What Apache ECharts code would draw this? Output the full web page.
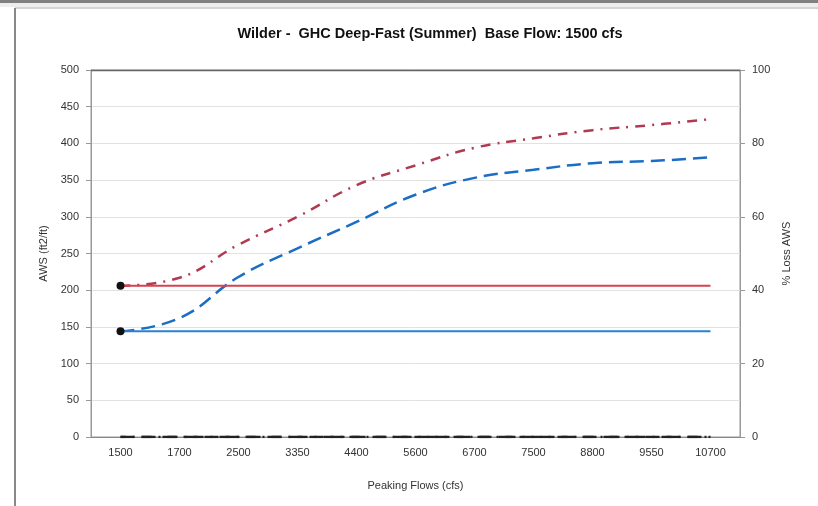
<!DOCTYPE html>
<html><head><meta charset="utf-8">
<script src="https://cdn.jsdelivr.net/npm/echarts@6/dist/echarts.min.js"></script>
<style>html,body{margin:0;padding:0;background:#fff}#c{width:818px;height:506px}</style>
</head><body><div id="c"></div>
<script>
const categories = ['1500','1700','2500','3350','4400','5600','6700','7500','8800','9550','10700'];
const baseRed = [206,206,206,206,206,206,206,206,206,206,206];
const baseBlue = [144,144,144,144,144,144,144,144,144,144,144];
const peakRed = [206,217,262,300,343,370,394,407,418,425,433];
const peakBlue = [144,162,218,257,293,330,353,364,373,376,381];
const lossA = [0,0,0,0,0,0,0,0,0,0,0];
const lossB = [0,0,0,0,0,0,0,0,0,0,0];
const leftTicks = {min:0, max:500, interval:50};
const rightTicks = {min:0, max:100, interval:20};

const firstDot = arr => arr.map((v,i)=> i===0 ? {value:v, symbol:'circle', symbolSize:8, itemStyle:{color:'#111'}} : {value:v, symbol:'none'});

const chart = echarts.init(document.getElementById('c'), null, {renderer:'canvas'});
const font = 'Liberation Sans';
chart.setOption({
  backgroundColor:'#fff',
  animation:false,
  textStyle:{fontFamily:font},
  title:{text:'Wilder -  GHC Deep-Fast (Summer)  Base Flow: 1500 cfs', left:425, top:21, textAlign:'center',
    textStyle:{fontFamily:font, fontSize:14.5, fontWeight:'bold', color:'#111'}},
  graphic:[
    {type:'rect', shape:{x:0,y:0,width:818,height:3}, style:{fill:'#808080'}},
    {type:'rect', shape:{x:0,y:3,width:818,height:4}, style:{fill:'#eeeeee'}},
    {type:'line', shape:{x1:15,y1:8,x2:818,y2:8}, style:{stroke:'#aaa', lineWidth:1}},
    {type:'line', shape:{x1:15,y1:8,x2:15,y2:506}, style:{stroke:'#888', lineWidth:2}},
    {type:'line', shape:{x1:91,y1:70.5,x2:740,y2:70.5}, style:{stroke:'#666', lineWidth:1.5}, z:10}
  ],
  grid:{left:91, right:78, top:70, bottom:69, show:true, borderColor:'#999', borderWidth:1},
  xAxis:{type:'category', data:categories, boundaryGap:true,
    name:'Peaking Flows (cfs)', nameLocation:'middle', nameGap:43,
    nameTextStyle:{fontSize:11, color:'#333'},
    axisLine:{lineStyle:{color:'#888'}}, axisTick:{show:false},
    axisLabel:{fontSize:11, color:'#333', margin:10}},
  yAxis:[
    {type:'value', min:leftTicks.min, max:leftTicks.max, interval:leftTicks.interval,
      name:'AWS (ft2/ft)', nameLocation:'middle', nameGap:37, nameRotate:90,
      nameTextStyle:{fontSize:11, color:'#333'},
      axisLine:{show:true, lineStyle:{color:'#999'}}, axisTick:{show:true, length:5, lineStyle:{color:'#999'}},
      axisLabel:{fontSize:11, color:'#333', margin:12},
      splitLine:{lineStyle:{color:'#e2e2e2'}}},
    {type:'value', min:rightTicks.min, max:rightTicks.max, interval:rightTicks.interval, position:'right',
      name:'% Loss AWS', nameLocation:'middle', nameGap:34, nameRotate:90,
      nameTextStyle:{fontSize:11, color:'#333'},
      axisLine:{show:true, lineStyle:{color:'#999'}}, axisTick:{show:true, length:5, lineStyle:{color:'#999'}},
      axisLabel:{fontSize:11, color:'#333', margin:12},
      splitLine:{show:false}}
  ],
  series:[
    {type:'line', name:'Peak Red', data:peakRed, yAxisIndex:0, smooth:0.45, symbol:'none',
      lineStyle:{color:'#b03a52', width:2.5, type:[10,7,2,7]}, z:3},
    {type:'line', name:'Peak Blue', data:peakBlue, yAxisIndex:0, smooth:0.45, symbol:'none',
      lineStyle:{color:'#1a6ec4', width:2.5, type:[14,7]}, z:3},
    {type:'line', name:'Base Red', data:firstDot(baseRed), yAxisIndex:0, lineStyle:{color:'#d8414f', width:2}, z:4},
    {type:'line', name:'Base Blue', data:firstDot(baseBlue), yAxisIndex:0, lineStyle:{color:'#2a80d2', width:2}, z:4},
    {type:'line', name:'Loss A', data:lossA, yAxisIndex:1, symbol:'none', lineStyle:{color:'#222', width:2.5, type:[14,7]}, z:5},
    {type:'line', name:'Loss B', data:lossB, yAxisIndex:1, symbol:'none', lineStyle:{color:'#222', width:2.5, type:[10,7,2,7], dashOffset:5}, z:5}
  ]
});
</script></body></html>
